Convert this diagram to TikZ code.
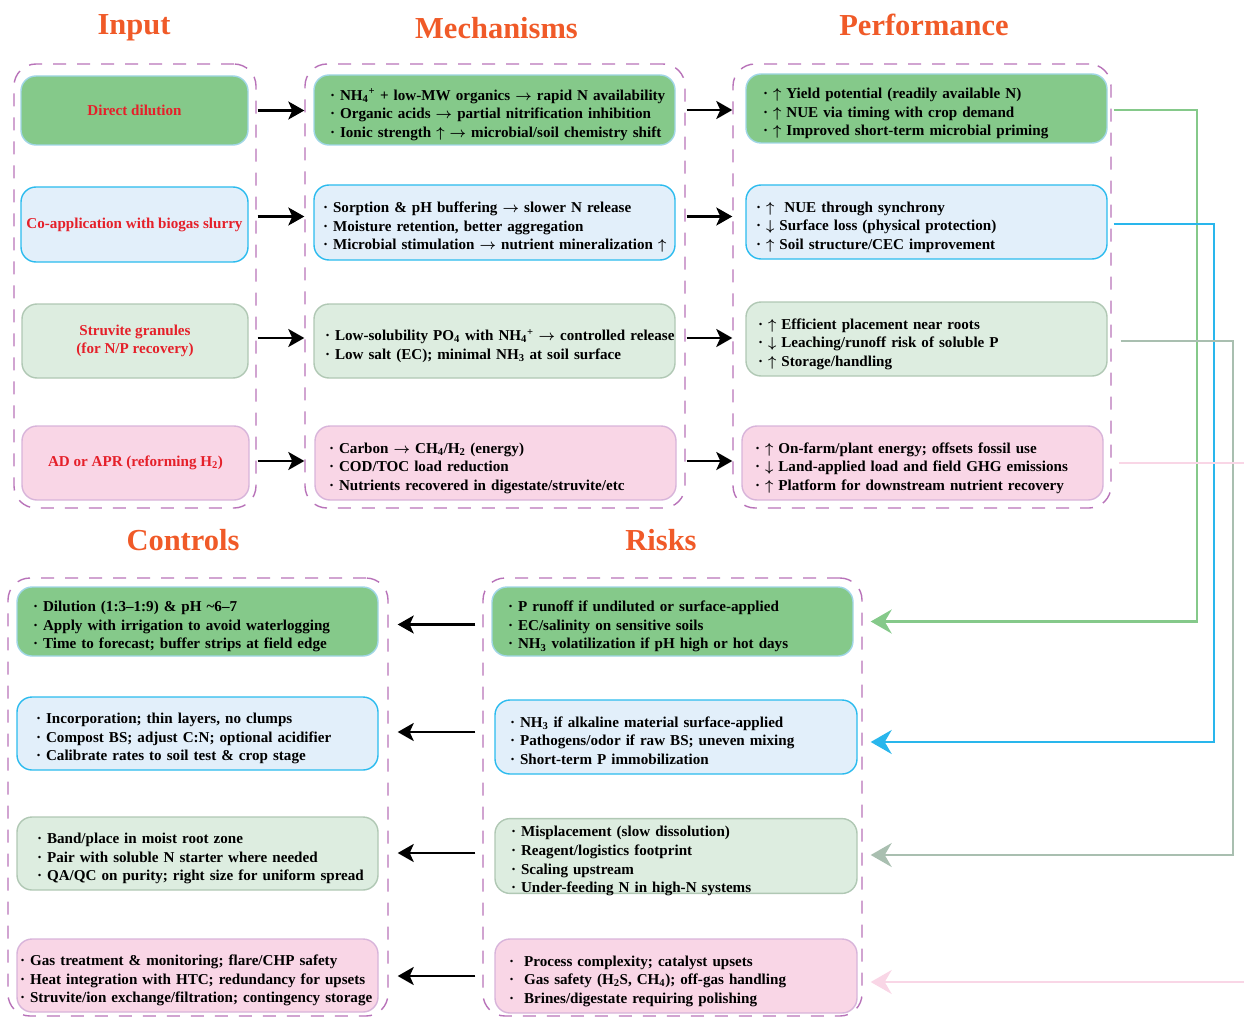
\documentclass[tikz,border=0pt]{standalone}
\usepackage{fontspec}
\setmainfont{Liberation Serif}
\usetikzlibrary{arrows.meta}
\definecolor{cG}{RGB}{133,201,138}
\definecolor{cGb}{RGB}{160,214,230}
\definecolor{cB}{RGB}{226,239,250}
\definecolor{cBb}{RGB}{43,187,238}
\definecolor{cL}{RGB}{221,237,224}
\definecolor{cLb}{RGB}{176,200,180}
\definecolor{cP}{RGB}{249,214,230}
\definecolor{cPb}{RGB}{216,180,218}
\definecolor{cGrp}{RGB}{184,115,185}
\definecolor{cTitle}{RGB}{240,90,40}
\definecolor{cRed}{RGB}{229,32,42}
\definecolor{lnG}{RGB}{133,201,138}
\definecolor{lnB}{RGB}{41,182,236}
\definecolor{lnY}{RGB}{169,191,176}
\definecolor{lnP}{RGB}{249,214,230}
\newcommand\tlines[1]{\raisebox{-5pt}[\height][\depth]{\begin{tabular}{@{}l@{}}#1\end{tabular}}}
\newcommand\nhfour{NH\textsubscript{4}\textsuperscript{+}}
\newcommand\rarr{$\rightarrow$}
\newcommand\uarr{$\uparrow$}
\newcommand\darr{$\downarrow$}
\begin{document}
\begin{tikzpicture}[x=1pt,y=-1pt,
  box/.style={draw, rounded corners=15pt, line width=1.4pt, inner ysep=0pt, align=left,
    font=\fontsize{15.1}{18.7}\selectfont\bfseries\boldmath, text=black},
  gbx/.style={box, fill=cG, draw=cGb},
  bbx/.style={box, fill=cB, draw=cBb},
  lbx/.style={box, fill=cL, draw=cLb},
  pbx/.style={box, fill=cP, draw=cPb},
  inbox/.style={align=center, text=cRed, inner sep=0pt},
  grp/.style={draw=cGrp, dash pattern=on 13pt off 11pt, line width=1.4pt, rounded corners=22pt, inner sep=0pt},
  ttl/.style={text=cTitle, font=\fontsize{30.5}{36}\selectfont\bfseries, inner sep=0pt},
  barrow/.style={-{Stealth[length=16pt,width=18pt,inset=4pt]}, line width=2.7pt, black},
  carrow/.style={-{Stealth[length=21pt,width=24pt,inset=7pt]}, line width=2.4pt}
]
\useasboundingbox (0,0) rectangle (1244,1019);
\clip (0,0) rectangle (1244,1019);

% titles
\node[ttl] (tI) at (134,28) {Input};
\node[ttl] (tM) at (496.5,28) {Mechanisms};
\node[ttl] (tP) at (924,25) {Performance};
\node[ttl] (tC) at (183,540) {Controls};
\node[ttl] (tR) at (661,540) {Risks};

% groups
\node[grp, minimum width=242pt, minimum height=444pt] (gI) at (135,286) {};
\node[grp, minimum width=380pt, minimum height=444pt] (gM) at (495,286) {};
\node[grp, minimum width=378pt, minimum height=444pt] (gP) at (922,286) {};
\node[grp, minimum width=380pt, minimum height=438pt] (gC) at (198,797) {};
\node[grp, minimum width=379pt, minimum height=438pt] (gR) at (672.5,797) {};

% input
\node[gbx, inbox, minimum width=227pt, minimum height=69pt] (i1) at (134.5,110.5) {Direct dilution};
\node[bbx, inbox, minimum width=227pt, minimum height=75pt] (i2) at (134.5,224.5) {Co-application with biogas slurry};
\node[lbx, inbox, minimum width=226pt, minimum height=74pt] (i3) at (135,341) {Struvite granules\\(for N/P recovery)};
\node[pbx, inbox, minimum width=227pt, minimum height=74pt] (i4) at (135.5,463) {AD or APR (reforming H\textsubscript{2})};

% mechanisms
\node[gbx, text width=329pt, inner xsep=16pt, minimum height=70pt] (m1) at (494.5,110) {\tlines{%
· \nhfour{} + low-MW organics \rarr{} rapid N availability\\
· Organic acids \rarr{} partial nitrification inhibition\\
· Ionic strength \uarr{} \rarr{} microbial/soil chemistry shift}};
\node[bbx, text width=343pt, inner xsep=9pt, minimum height=75pt] (m2) at (494.5,222.5) {\tlines{%
· Sorption \& pH buffering \rarr{} slower N release\\
· Moisture retention, better aggregation\\
· Microbial stimulation \rarr{} nutrient mineralization \uarr}};
\node[lbx, text width=339pt, inner xsep=11pt, minimum height=74pt] (m3) at (494.5,341) {\tlines{%
· Low-solubility PO\textsubscript{4} with \nhfour{} \rarr{} controlled release\\
· Low salt (EC); minimal NH\textsubscript{3} at soil surface}};
\node[pbx, text width=333pt, inner xsep=14pt, minimum height=74pt] (m4) at (495.5,463) {\tlines{%
· Carbon \rarr{} CH\textsubscript{4}/H\textsubscript{2} (energy)\\
· COD/TOC load reduction\\
· Nutrients recovered in digestate/struvite/etc}};

% performance
\node[gbx, text width=327pt, inner xsep=17pt, minimum height=69pt] (p1) at (926.5,108.5) {\tlines{%
· \uarr{} Yield potential (readily available N)\\
· \uarr{} NUE via timing with crop demand\\
· \uarr{} Improved short-term microbial priming}};
\node[bbx, text width=341pt, inner xsep=10pt, minimum height=74pt] (p2) at (926.5,222) {\tlines{%
· \uarr\ \ NUE through synchrony\\
· \darr{} Surface loss (physical protection)\\
· \uarr{} Soil structure/CEC improvement}};
\node[lbx, text width=337pt, inner xsep=12pt, minimum height=74pt] (p3) at (926.5,339) {\tlines{%
· \uarr{} Efficient placement near roots\\
· \darr{} Leaching/runoff risk of soluble P\\
· \uarr{} Storage/handling}};
\node[pbx, text width=335pt, inner xsep=13pt, minimum height=74pt] (p4) at (922.5,463) {\tlines{%
· \uarr{} On-farm/plant energy; offsets fossil use\\
· \darr{} Land-applied load and field GHG emissions\\
· \uarr{} Platform for downstream nutrient recovery}};

% controls
\node[gbx, text width=329pt, inner xsep=16pt, minimum height=69pt] (c1) at (197.5,621.5) {\tlines{%
· Dilution (1:3–1:9) \& pH \textasciitilde6–7\\
· Apply with irrigation to avoid waterlogging\\
· Time to forecast; buffer strips at field edge}};
\node[bbx, text width=323pt, inner xsep=19pt, minimum height=73pt] (c2) at (197.5,733.5) {\tlines{%
· Incorporation; thin layers, no clumps\\
· Compost BS; adjust C:N; optional acidifier\\
· Calibrate rates to soil test \& crop stage}};
\node[lbx, text width=321pt, inner xsep=20pt, minimum height=73pt] (c3) at (197.5,853.5) {\tlines{%
· Band/place in moist root zone\\
· Pair with soluble N starter where needed\\
· QA/QC on purity; right size for uniform spread}};
\node[pbx, text width=355pt, inner xsep=3pt, minimum height=73pt] (c4) at (197.5,975.5) {\tlines{%
· Gas treatment \& monitoring; flare/CHP safety\\
· Heat integration with HTC; redundancy for upsets\\
· Struvite/ion exchange/filtration; contingency storage}};

% risks
\node[gbx, text width=329pt, inner xsep=16pt, minimum height=69pt] (r1) at (672.5,621.5) {\tlines{%
· P runoff if undiluted or surface-applied\\
· EC/salinity on sensitive soils\\
· NH\textsubscript{3} volatilization if pH high or hot days}};
\node[bbx, text width=332pt, inner xsep=15pt, minimum height=74pt] (r2) at (676,737) {\tlines{%
· NH\textsubscript{3} if alkaline material surface-applied\\
· Pathogens/odor if raw BS; uneven mixing\\
· Short-term P immobilization}};
\node[lbx, text width=330pt, inner xsep=16pt, minimum height=74pt] (r3) at (676,856) {\tlines{%
· Misplacement (slow dissolution)\\
· Reagent/logistics footprint\\
· Scaling upstream\\
· Under-feeding N in high-N systems}};
\node[pbx, text width=334pt, inner xsep=14pt, minimum height=74pt] (r4) at (676,976) {\tlines{%
·\ \ Process complexity; catalyst upsets\\
·\ \ Gas safety (H\textsubscript{2}S, CH\textsubscript{4}); off-gas handling\\
·\ \ Brines/digestate requiring polishing}};

% black arrows
\draw[barrow] ([xshift=1pt]gI.east |- i1) -- (gM.west |- i1);
\draw[barrow] ([xshift=1pt,yshift=8pt]gI.east |- i2) -- ([yshift=8pt]gM.west |- i2);
\draw[barrow] ([xshift=1pt,yshift=3pt]gI.east |- i3) -- ([yshift=3pt]gM.west |- i3);
\draw[barrow] ([xshift=1pt,yshift=2pt]gI.east |- i4) -- ([yshift=2pt]gM.west |- i4);
\draw[barrow] ([xshift=1pt]gM.east |- m1) -- (gP.west |- m1);
\draw[barrow] ([xshift=1pt,yshift=6pt]gM.east |- m2) -- ([yshift=6pt]gP.west |- m2);
\draw[barrow] ([xshift=1pt,yshift=3pt]gM.east |- m3) -- ([yshift=3pt]gP.west |- m3);
\draw[barrow] ([xshift=1pt,yshift=2pt]gM.east |- m4) -- ([yshift=2pt]gP.west |- m4);
\draw[barrow] ([xshift=-7pt,yshift=-3pt]gR.west |- r1) -- ([xshift=9pt,yshift=-3pt]gC.east |- r1);
\draw[barrow] ([xshift=-7pt,yshift=5pt]gR.west |- r2) -- ([xshift=9pt,yshift=5pt]gC.east |- r2);
\draw[barrow] ([xshift=-7pt,yshift=3pt]gR.west |- r3) -- ([xshift=9pt,yshift=3pt]gC.east |- r3);
\draw[barrow] ([xshift=-7pt]gR.west |- r4) -- ([xshift=9pt]gC.east |- r4);

% coloured connectors
\coordinate (vG) at (1197,0);
\coordinate (vB) at (1214,0);
\coordinate (vY) at (1233,0);
\coordinate (eP1) at (1260,463);
\coordinate (eP2) at (1260,982);
\draw[carrow, lnG] ([xshift=6pt,yshift=-1.5pt]p1.east) -- ([yshift=-1.5pt]p1.east -| vG) -- (vG |- r1) -- ([xshift=8pt]gR.east |- r1);
\draw[carrow, lnB] ([xshift=6pt,yshift=-2pt]p2.east) -- ([yshift=-2pt]p2.east -| vB) -- ([yshift=-5pt]vB |- r2) -- ([xshift=8pt,yshift=-5pt]gR.east |- r2);
\draw[carrow, lnY] ([xshift=13pt,yshift=-2pt]p3.east) -- ([yshift=-2pt]p3.east -| vY) -- ([yshift=1pt]vY |- r3) -- ([xshift=8pt,yshift=1pt]gR.east |- r3);
\draw[line width=2.4pt, lnP] ([xshift=15pt]p4.east) -- (eP1);
\draw[carrow, lnP] (eP2) -- ([xshift=8pt]gR.east |- eP2);
\end{tikzpicture}
\end{document}
